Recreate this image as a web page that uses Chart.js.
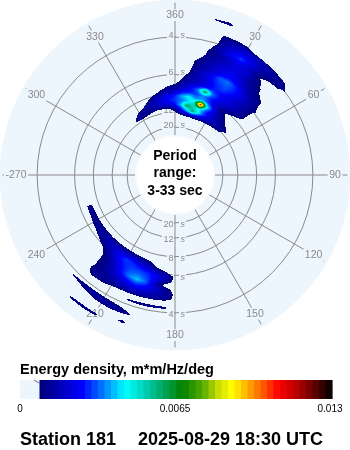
<!DOCTYPE html>
<html>
<head>
<meta charset="utf-8">
<script src="https://cdn.jsdelivr.net/npm/chart.js@4.4.1/dist/chart.umd.min.js"></script>
<style>
  html, body { margin: 0; padding: 0; background: #ffffff; }
  #wrap { width: 350px; height: 450px; }
</style>
</head>
<body>
<div id="wrap"><canvas id="c" width="350" height="450"></canvas></div>
<script>
// Directional wave energy spectrum, polar view (direction waves come from, radius = frequency)
const stationName = 'Station 181';
const sampleTime = '2025-08-29 18:30 UTC';
const periodRange = [3, 33];                 // s : outer edge, inner hole
const ringPeriods = [4, 6, 8, 12, 20];       // s
const compassDirs = [0, 30, 60, 90, 120, 150, 180, 210, 240, 270, 300, 330];
const compassLabels = ['360', '30', '60', '90', '120', '150', '180', '210', '240', '-270', '300', '330'];
const colorTicks = [0, 0.0065, 0.013];
const colorTickLabels = ['0', '0.0065', '0.013'];
const energyMax = 0.013;                     // m*m/Hz/deg, top of colour scale
const energyMin = 0.00085;                   // lowest shaded level

// Spectral bands: frequency (Hz), first direction (deg, 5-degree steps),
// energy density in units of 1e-4 m*m/Hz/deg
const runFreq = [
  0.08, 0.09, 0.10, 0.11, 0.12, 0.13, 0.14, 0.15, 0.16, 0.17, 0.18, 0.19, 0.20,
  0.21, 0.22, 0.23, 0.24, 0.25, 0.26, 0.27, 0.30,
  0.14, 0.15, 0.16, 0.17, 0.18, 0.19, 0.20, 0.21, 0.22, 0.23, 0.24, 0.26, 0.27,
  0.29, 0.30
];
const runStartDir = [
  0, 325, 325, 330, 340, 345, 350, 355, 5, 5, 10, 10, 10,
  10, 15, 15, 15, 20, 20, 20, 15,
  195, 190, 185, 180, 180, 180, 180, 180, 180, 180, 180, 200, 195,
  200, 210
];
const runEnergy = [
  [6, 10, 14, 16, 18, 16, 14, 12, 10, 9],
  [11, 12, 10, 8, 6, 6, 7, 12, 24, 40, 60, 44, 30, 22, 18, 15, 13, 10],
  [6, 11, 13, 14, 16, 18, 20, 26, 40, 62, 50, 45, 32, 22, 16, 12, 9, 5],
  [5, 8, 14, 18, 22, 26, 30, 34, 40, 50, 112, 45, 26, 16, 10, 6],
  [8, 14, 20, 24, 28, 38, 44, 36, 38, 30, 20, 12, 8, 4],
  [6, 11, 15, 18, 24, 28, 30, 35, 28, 22, 18, 14, 10, 6],
  [5, 9, 12, 18, 24, 34, 62, 34, 26, 22, 18, 14, 10],
  [3, 6, 13, 18, 22, 26, 28, 26, 22, 18, 14, 10],
  [9, 15, 18, 22, 28, 30, 26, 20, 15, 11],
  [6, 13, 18, 24, 30, 32, 28, 22, 16, 11, 7],
  [12, 18, 24, 32, 34, 28, 20, 14, 10],
  [10, 14, 18, 24, 26, 22, 16, 12, 9],
  [9, 14, 18, 22, 24, 20, 14, 10, 7],
  [6, 12, 16, 20, 22, 18, 12, 9],
  [10, 14, 18, 22, 20, 12, 7],
  [9, 14, 20, 24, 18, 10, 5],
  [6, 16, 24, 30, 22, 14, 10, 8],
  [14, 20, 24, 20, 16, 13, 11, 7],
  [12, 16, 18, 16, 14, 12, 10],
  [10, 10, 9],
  [10, 12],
  [7, 8, 9, 10, 10, 10, 10, 10, 10, 10, 10, 9, 4],
  [5, 12, 16, 18, 20, 20, 18, 16, 14, 12, 11, 10, 9, 4],
  [8, 14, 20, 24, 28, 30, 24, 18, 14, 10, 7, 5],
  [7, 16, 22, 28, 30, 30, 28, 22, 14, 8.5, 5],
  [6, 14, 22, 30, 34, 32, 26, 18, 11, 6],
  [4, 6, 16, 32, 40, 34, 24, 16, 10, 6],
  [6, 12, 20, 26, 30, 26, 20, 14, 10, 6],
  [7, 14, 16, 20, 22, 20, 16, 13, 10, 6],
  [7, 12, 13, 14, 15, 14, 13, 12, 11, 6],
  [4, 3, 3, 3, 3, 4, 7, 10, 10, 5],
  [6, 10.5, 11, 11, 10, 5, 0, 0, 5],
  [7, 10, 13, 14, 13, 10, 5],
  [6, 11, 13, 12, 9, 5],
  [12],
  [11, 12, 11]
];

// ---- geometry of the polar frame (radial unit = Hz) ----
const innerFreq = 1 / periodRange[1];
const outerFreq = 1 / periodRange[0];
const holeRadius = 0.0867;                 // room left for the centre caption
const axisLimit = 0.3889;
const radial = f => f - innerFreq + holeRadius;
const outerRadius = radial(outerFreq);

// ---- energy grid built from the bands ----
const gridF0 = 0.04, gridDF = 0.01, gridRows = 29, gridCols = 72, dirStep = 5;
const grid = new Float32Array(gridRows * gridCols);
runFreq.forEach((f, k) => {
  const row = Math.round((f - gridF0) / gridDF);
  runEnergy[k].forEach((v, i) => {
    const col = (Math.round(runStartDir[k] / dirStep) + i) % gridCols;
    grid[row * gridCols + col] = v * 1e-4;
  });
});
function cell(i, j) {
  if (i < 0 || i >= gridRows) return 0;
  return grid[i * gridCols + j];
}
function energyAt(f, dir) {
  const fi = (f - gridF0) / gridDF;
  const i0 = Math.floor(fi), tf = fi - i0;
  const dj = dir / dirStep;
  const jf = Math.floor(dj), td = dj - jf;
  const j0 = ((jf % gridCols) + gridCols) % gridCols, j1 = (j0 + 1) % gridCols;
  const a = (1 - td) * cell(i0, j0) + td * cell(i0, j1);
  const b = (1 - td) * cell(i0 + 1, j0) + td * cell(i0 + 1, j1);
  return (1 - tf) * a + tf * b;
}

// ---- colour scale ----
const cmapStops = [
  [0.064, [0, 0, 120]], [0.2, [0, 0, 255]], [0.337, [0, 255, 255]], [0.41, [0, 200, 170]],
  [0.519, [0, 128, 0]], [0.583, [80, 170, 0]], [0.635, [200, 220, 0]], [0.679, [255, 255, 0]],
  [0.731, [255, 170, 0]], [0.785, [255, 80, 0]], [0.827, [255, 0, 0]], [0.891, [180, 0, 0]],
  [1.0, [0, 0, 0]]
];
function cmap(t) {
  if (t <= cmapStops[0][0]) return cmapStops[0][1];
  for (let k = 1; k < cmapStops.length; k++) {
    if (t <= cmapStops[k][0]) {
      const [p0, c0] = cmapStops[k - 1], [p1, c1] = cmapStops[k];
      const s = (t - p0) / (p1 - p0);
      return [0, 1, 2].map(n => Math.round(c0[n] + s * (c1[n] - c0[n])));
    }
  }
  return cmapStops[cmapStops.length - 1][1];
}

const diskColor = 'rgb(237,245,253)';
const gridColor = '#8a8a8a';
const labelColor = '#8a8a8a';
const FONT = "'Liberation Sans', Arial, sans-serif";

const polarSpectrum = {
  id: 'polarSpectrum',
  afterDatasetsDraw(chart) {
    const { ctx, chartArea } = chart;
    const xs = chart.scales.x, ys = chart.scales.y;
    const rad = d => d * Math.PI / 180;
    const pX = (u, d) => xs.getPixelForValue(u * Math.sin(rad(d)));
    const pY = (u, d) => ys.getPixelForValue(u * Math.cos(rad(d)));
    const cx = xs.getPixelForValue(0), cy = ys.getPixelForValue(0);
    const pr = u => xs.getPixelForValue(u) - cx;

    ctx.save();
    // disk
    ctx.fillStyle = diskColor;
    ctx.beginPath(); ctx.arc(cx, cy, pr(outerRadius), 0, Math.PI * 2); ctx.fill();

    // period rings
    ctx.strokeStyle = gridColor; ctx.lineWidth = 1;
    ringPeriods.forEach(p => {
      ctx.beginPath(); ctx.arc(cx, cy, pr(radial(1 / p)), 0, Math.PI * 2); ctx.stroke();
    });

    // ring labels on the north and south spokes
    ringPeriods.forEach(p => {
      const u = radial(1 / p);
      [0, 180].forEach(d => {
        const yy = pY(u, d) + (d === 0 ? -2 : 2);
        ctx.font = '9px ' + FONT;
        const num = String(p);
        const w = ctx.measureText(num).width;
        ctx.fillStyle = diskColor;
        ctx.fillRect(cx - 2 - w - 1, yy - 5, w + 2, 10);
        ctx.fillRect(cx + 4, yy - 5, 7, 10);
        ctx.fillStyle = labelColor;
        ctx.textBaseline = 'middle';
        ctx.textAlign = 'right';
        ctx.fillText(num, cx - 1.5, yy);
        ctx.font = 'italic 9px ' + FONT;
        ctx.textAlign = 'left';
        ctx.fillText('s', cx + 5.5, yy);
      });
    });

    // direction spokes
    ctx.strokeStyle = gridColor;
    compassDirs.forEach(d => {
      ctx.beginPath();
      ctx.moveTo(pX(holeRadius, d), pY(holeRadius, d));
      ctx.lineTo(pX(0.383, d), pY(0.383, d));
      ctx.stroke();
    });

    // compass labels
    ctx.font = '10.5px ' + FONT;
    ctx.textAlign = 'center'; ctx.textBaseline = 'middle';
    compassDirs.forEach((d, k) => {
      const u = 0.3556;
      let lx = pX(u, d), ly = pY(u, d);
      const w = ctx.measureText(compassLabels[k]).width;
      if (d === 270) lx += 1;
      ctx.fillStyle = diskColor;
      ctx.fillRect(lx - w / 2 - 1.5, ly - 6, w + 3, 12);
      ctx.fillStyle = labelColor;
      ctx.fillText(compassLabels[k], lx, ly + 0.5);
    });

    // spectrum shading
    const W = Math.round(chartArea.right - chartArea.left);
    const H = Math.round(chartArea.bottom - chartArea.top);
    const off = document.createElement('canvas');
    off.width = W; off.height = H;
    const octx = off.getContext('2d');
    const img = octx.createImageData(W, H);
    for (let j = 0; j < H; j++) {
      const Y = ys.getValueForPixel(chartArea.top + j + 0.5);
      for (let i = 0; i < W; i++) {
        const X = xs.getValueForPixel(chartArea.left + i + 0.5);
        const u = Math.hypot(X, Y);
        const f = u - holeRadius + innerFreq;
        if (f < gridF0 - gridDF || f > outerFreq) continue;
        let dir = Math.atan2(X, Y) * 180 / Math.PI;
        if (dir < 0) dir += 360;
        const e = energyAt(f, dir);
        if (e < energyMin) continue;
        const c = cmap(Math.min(1, e / energyMax));
        const o = (j * W + i) * 4;
        img.data[o] = c[0]; img.data[o + 1] = c[1]; img.data[o + 2] = c[2]; img.data[o + 3] = 255;
      }
    }
    octx.putImageData(img, 0, 0);
    ctx.drawImage(off, chartArea.left, chartArea.top);

    // centre hole and caption
    ctx.fillStyle = 'rgb(246,250,254)';
    ctx.beginPath(); ctx.arc(cx, cy, pr(holeRadius) + 1, 0, Math.PI * 2); ctx.fill();
    ctx.fillStyle = '#ffffff';
    ctx.beginPath(); ctx.arc(cx, cy, pr(holeRadius) - 0.5, 0, Math.PI * 2); ctx.fill();
    ctx.fillStyle = '#000000';
    ctx.font = 'bold 14px ' + FONT;
    ctx.textAlign = 'center'; ctx.textBaseline = 'alphabetic';
    ctx.fillText('Period', cx, 159.5);
    ctx.fillText('range:', cx, 177);
    ctx.fillText(periodRange[0] + '-' + periodRange[1] + ' sec', cx, 194.5);

    // colour bar
    const barL = 20, barR = 332, barT = 380, barB = 399, steps = 48;
    const sw = (barR - barL) / steps;
    for (let k = 0; k < steps; k++) {
      const t = (k + 0.5) / steps;
      let col;
      if (t * energyMax < energyMin) col = diskColor;
      else { const c = cmap(t); col = `rgb(${c[0]},${c[1]},${c[2]})`; }
      ctx.fillStyle = col;
      ctx.fillRect(barL + k * sw, barT, sw + 0.6, barB - barT);
    }
    ctx.strokeStyle = '#707070'; ctx.lineWidth = 1;
    ctx.beginPath(); ctx.moveTo(34, 380); ctx.lineTo(40, 383.5); ctx.stroke();

    ctx.fillStyle = '#000000';
    ctx.font = 'bold 14.5px ' + FONT;
    ctx.textAlign = 'left';
    ctx.fillText('Energy density, m*m/Hz/deg', 20, 374);

    ctx.font = '10px ' + FONT;
    ctx.textAlign = 'center';
    colorTicks.forEach((v, k) => {
      ctx.fillText(colorTickLabels[k], barL + (v / energyMax) * 310, 411.5);
    });

    ctx.font = 'bold 18px ' + FONT;
    ctx.textAlign = 'left';
    ctx.fillText(stationName, 20, 445);
    ctx.fillText(sampleTime, 138, 445);
    ctx.restore();
  }
};

new Chart(document.getElementById('c'), {
  type: 'scatter',
  data: { datasets: [] },
  options: {
    responsive: false,
    devicePixelRatio: 1,
    animation: false,
    events: [],
    layout: { padding: { left: 0, right: 0, top: 0, bottom: 100 } },
    scales: {
      x: { type: 'linear', min: -axisLimit, max: axisLimit, display: false },
      y: { type: 'linear', min: -axisLimit, max: axisLimit, display: false }
    },
    plugins: { legend: { display: false }, tooltip: { enabled: false } }
  },
  plugins: [polarSpectrum]
});
</script>
</body>
</html>
